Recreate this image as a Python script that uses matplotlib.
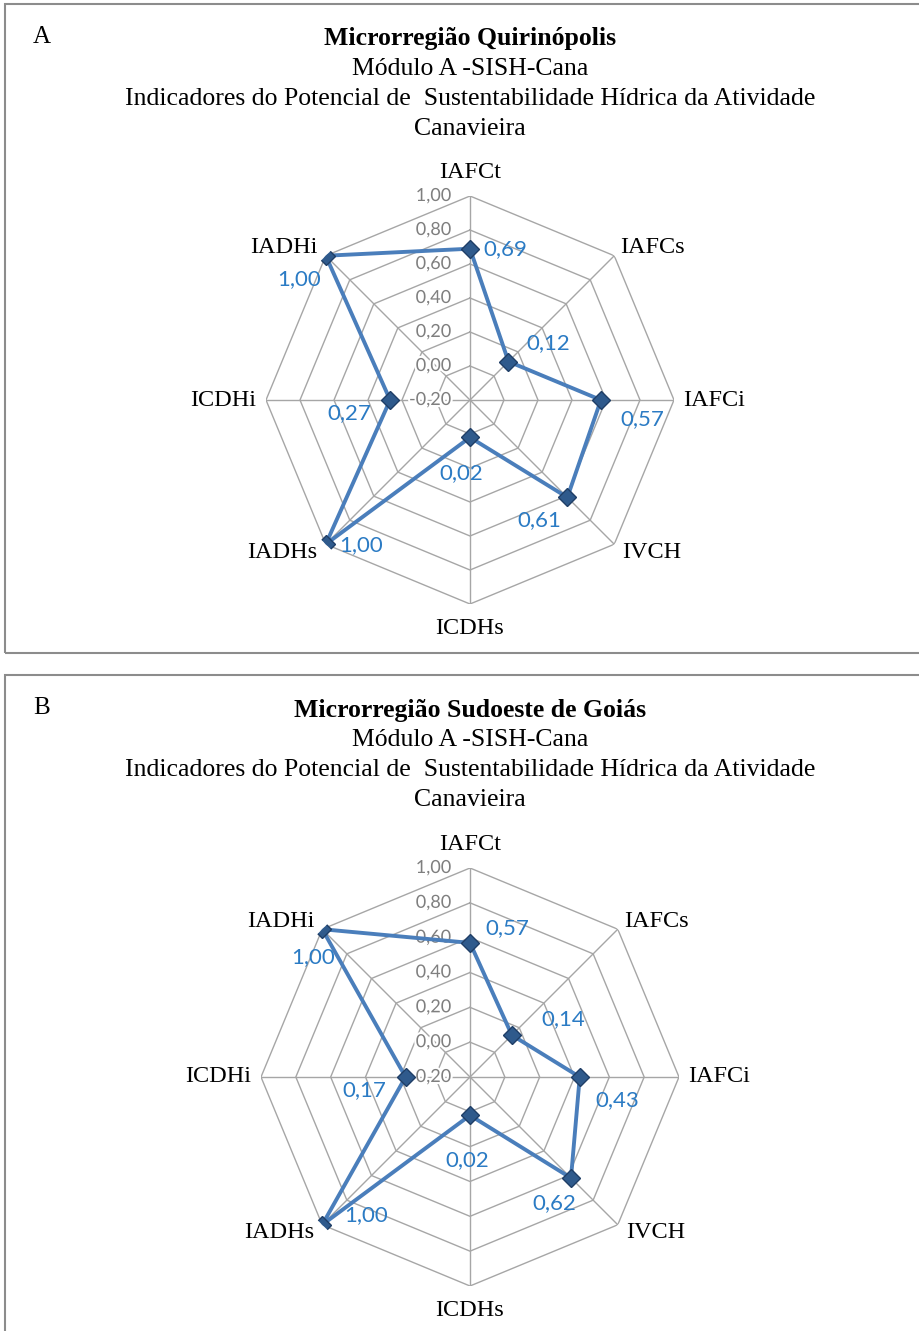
import numpy as np
import matplotlib
matplotlib.use('Agg')
import matplotlib.pyplot as plt
import matplotlib.patheffects as pe
from matplotlib.patches import Rectangle

# Data
categories = ['IAFCt', 'IAFCs', 'IAFCi', 'IVCH', 'ICDHs', 'IADHs', 'ICDHi', 'IADHi']
values_a = [0.69, 0.12, 0.57, 0.61, 0.02, 1.00, 0.27, 1.00]
values_b = [0.57, 0.14, 0.43, 0.62, 0.02, 1.00, 0.17, 1.00]
levels = [-0.20, 0.00, 0.20, 0.40, 0.60, 0.80, 1.00]
title_a = 'Microrregião Quirinópolis'
title_b = 'Microrregião Sudoeste de Goiás'
subtitle = ['Módulo A -SISH-Cana',
            'Indicadores do Potencial de  Sustentabilidade Hídrica da Atividade',
            'Canavieira']

# Label placement (pixels, y up)
cat_offsets = [(0, 24, 'center'), (6, 8, 'left'), (9, 0, 'left'), (8, -8, 'left'),
               (0, -25, 'center'), (-8, -8, 'right'), (-10, 0, 'right'), (-8, 8, 'right')]
val_offsets_a = [(35, 0), (40, 18), (41, -19), (-28, -23), (-9, -36), (35, -1), (-41, -13), (-27, -23)]
val_offsets_b = [(37, 15), (51, 16), (38, -23), (-17, -25), (-3, -45), (44, 10), (-41, -13), (-9, -28)]

W, H = 920, 1331
fig = plt.figure(figsize=(W / 100, H / 100), dpi=100)

serif = 'Liberation Serif'
sans = 'Lato'
line_color = '#4A7EBB'
label_color = '#2B7BC4'
grid_color = '#A6A6A6'

angles = np.deg2rad(np.arange(0, 360, 45))


def radar(ax, values, val_offsets):
    ax.set_theta_zero_location('N')
    ax.set_theta_direction(-1)
    ax.set_ylim(levels[0], levels[-1])
    ax.grid(False)
    ax.set_xticks([])
    ax.set_yticks([])
    ax.spines['polar'].set_visible(False)
    ax.patch.set_alpha(0)

    closed = np.append(angles, angles[0])
    for lv in levels[1:]:
        ax.plot(closed, [lv] * len(closed), color=grid_color, lw=1.0, zorder=1)
    for a in angles:
        ax.plot([a, a], [levels[0], levels[-1]], color=grid_color, lw=1.0, zorder=1)

    # scale labels
    for lv in levels:
        ax.annotate(('%.2f' % lv).replace('.', ','), xy=(0, lv), xytext=(-19, 0),
                    textcoords='offset pixels', ha='right', va='center',
                    fontsize=13, color='#7F7F7F', family=sans, zorder=2,
                    path_effects=[pe.withStroke(linewidth=3, foreground='white')])

    vals = list(values) + [values[0]]
    ax.plot(closed, vals, color=line_color, lw=2.8, zorder=3)
    ax.plot(angles, values, linestyle='none', marker='D', markersize=9.5,
            markerfacecolor='#2F5A8C', markeredgecolor='#1F3E66', zorder=4)

    for a, v, (dx, dy) in zip(angles, values, val_offsets):
        ax.annotate(('%.2f' % v).replace('.', ','), xy=(a, v), xytext=(dx, dy),
                    textcoords='offset pixels', ha='center', va='center',
                    fontsize=16, color=label_color, family=sans, zorder=5)

    for a, c, (dx, dy, ha) in zip(angles, categories, cat_offsets):
        ax.annotate(c, xy=(a, levels[-1]), xytext=(dx, dy), textcoords='offset pixels',
                    ha=ha, va='center', fontsize=17.5, family=serif, color='black')


def panel(top, bottom, letter, title, cx, cy, R, values, val_offsets):
    fig.add_artist(Rectangle((5 / W, 1 - bottom / H), (W + 10) / W, (bottom - top) / H,
                             transform=fig.transFigure, fill=False,
                             edgecolor='#8C8C8C', lw=1.5))
    fig.text(42 / W, 1 - (top + 33) / H, letter, ha='center', va='center',
             fontsize=18, family=serif)
    fig.text(470 / W, 1 - (top + 35) / H, title, ha='center', va='center',
             fontsize=18.5, family=serif, weight='bold')
    for i, s in enumerate(subtitle):
        fig.text(470 / W, 1 - (top + 65 + 30 * i) / H, s, ha='center', va='center',
                 fontsize=18.5, family=serif)
    ax = fig.add_axes([(cx - R) / W, 1 - (cy + R) / H, 2 * R / W, 2 * R / H],
                      projection='polar')
    radar(ax, values, val_offsets)


panel(4, 653, 'A', title_a, 470, 400, 204, values_a, val_offsets_a)
panel(675, 1340, 'B', title_b, 470, 1077, 209, values_b, val_offsets_b)

fig.savefig('out.png', dpi=100)
